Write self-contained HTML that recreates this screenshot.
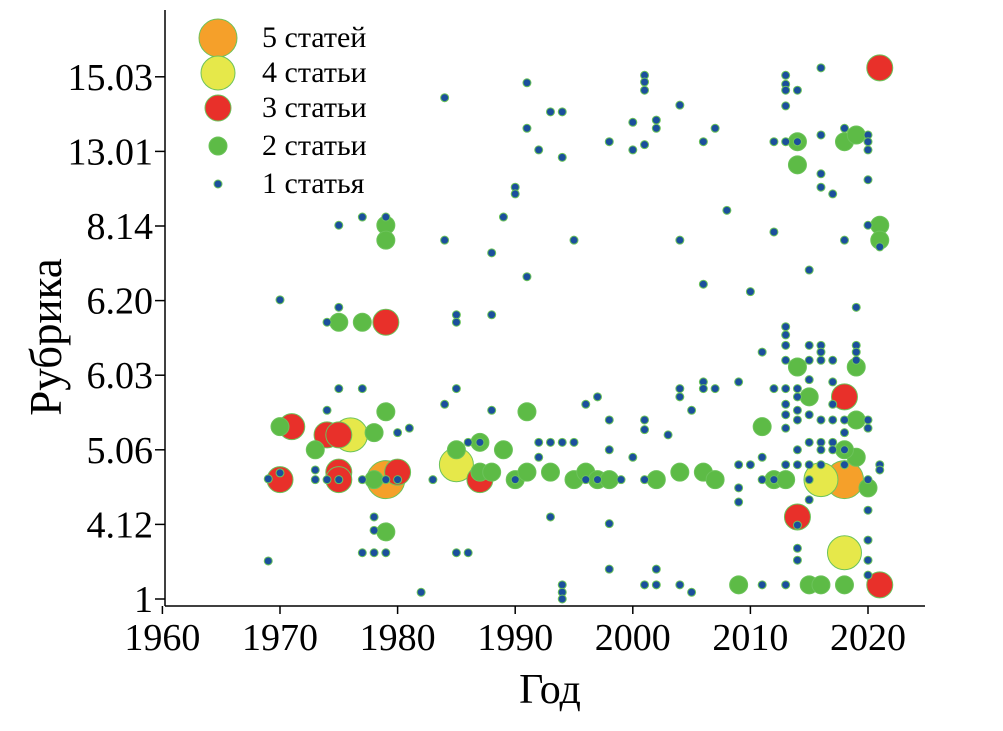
<!DOCTYPE html>
<html><head><meta charset="utf-8"><style>
html,body{margin:0;padding:0;background:#fff;}
svg{display:block;font-family:"Liberation Serif",serif;}
</style></head><body>
<svg id="chart" width="1003" height="731" viewBox="0 0 1003 731">
<g id="marks"></g>
<g id="axes"></g>
<g id="legend"></g>
</svg>
<script>
const xTicks = [1960,1970,1980,1990,2000,2010,2020];
const yTickLabels = ["1","4.12","5.06","6.03","6.20","8.14","13.01","15.03"];
const legendLabels = ["5 статей","4 статьи","3 статьи","2 статьи","1 статья"];
const pts1 = [[1969,0.51],[1970,4.01],[1970,1.69],[1969,1.61],[1975,5.01],[1975,3.91],[1975,2.82],[1974,3.71],[1974,2.53],[1973,1.60],[1973,1.73],[1974,1.60],[1975,1.60],[1977,5.12],[1977,2.82],[1977,1.60],[1978,0.92],[1978,0.62],[1977,0.62],[1979,0.62],[1978,1.10],[1979,1.60],[1980,2.23],[1981,2.29],[1979,5.12],[1980,1.60],[1982,0.09],[1983,1.60],[1984,6.72],[1984,2.61],[1984,4.81],[1985,3.81],[1985,3.71],[1985,2.82],[1985,0.62],[1986,0.62],[1986,2.10],[1987,2.10],[1988,4.64],[1988,3.81],[1988,2.53],[1989,5.12],[1990,5.52],[1990,5.43],[1990,1.60],[1991,4.32],[1991,6.92],[1991,6.31],[1992,6.02],[1992,2.10],[1992,1.90],[1993,6.53],[1994,6.53],[1994,5.92],[1993,1.10],[1993,2.10],[1994,2.10],[1995,2.10],[1994,0.19],[1994,0.09],[1994,0],[1995,4.81],[1996,2.61],[1996,1.60],[1997,2.71],[1997,1.60],[1998,2.40],[1998,2.00],[1998,1.01],[1998,0.40],[1998,6.13],[1999,1.60],[2000,6.39],[2000,6.02],[2000,1.90],[2001,7.02],[2001,6.93],[2001,6.82],[2001,6.09],[2001,2.40],[2001,2.27],[2001,1.60],[2001,0.19],[2002,6.42],[2002,6.31],[2002,0.40],[2002,0.19],[2003,2.20],[2004,6.62],[2004,4.81],[2004,2.82],[2004,2.71],[2004,0.19],[2005,2.53],[2005,0.09],[2006,6.13],[2006,4.22],[2006,2.91],[2006,2.82],[2007,6.31],[2007,2.82],[2008,5.21],[2009,2.91],[2009,1.80],[2009,1.49],[2009,1.30],[2010,4.12],[2010,1.80],[2011,3.31],[2011,1.90],[2011,1.60],[2011,0.19],[2012,4.92],[2012,2.82],[2012,1.60],[2013,7.02],[2013,6.90],[2013,6.82],[2013,6.61],[2013,1.80],[2013,0.19],[2014,6.82],[2014,6.13],[2014,0.99],[2014,0.68],[2014,0.52],[2013,3.65],[2013,3.54],[2013,3.40],[2013,3.20],[2013,2.82],[2013,2.61],[2013,2.47],[2013,2.29],[2012,6.13],[2013,6.13],[2014,2.82],[2014,2.71],[2014,2.53],[2014,2.40],[2014,2.00],[2014,1.80],[2015,4.41],[2015,2.47],[2015,2.10],[2015,1.80],[2015,1.60],[2015,1.33],[2015,2.94],[2015,3.40],[2015,3.20],[2016,7.12],[2016,6.22],[2016,5.70],[2016,5.52],[2016,3.40],[2016,3.31],[2016,3.20],[2016,2.40],[2016,2.10],[2016,2.00],[2016,1.80],[2017,5.43],[2017,2.10],[2017,2.00],[2018,4.81],[2018,2.40],[2018,1.80],[2019,3.91],[2019,3.40],[2019,3.31],[2019,3.20],[2018,6.31],[2020,6.22],[2020,6.13],[2020,6.02],[2020,5.62],[2020,5.01],[2020,2.40],[2020,2.29],[2020,1.60],[2020,1.19],[2020,0.79],[2020,0.52],[2020,0.32],[2021,4.72],[2021,1.80],[2021,1.73],[2018,2.23],[2018,2.00],[2017,2.61],[2017,3.20],[2017,2.91],[2017,2.40]];
const pts2 = [[1970,2.31],[1973,2.00],[1975,3.71],[1977,3.71],[1978,2.23],[1979,5.01],[1979,4.81],[1979,2.51],[1978,1.60],[1979,0.90],[1985,2.00],[1987,2.10],[1989,2.00],[1987,1.70],[1988,1.70],[1990,1.60],[1991,2.51],[1991,1.70],[1993,1.70],[1995,1.60],[1996,1.70],[1997,1.60],[1998,1.60],[2002,1.60],[2004,1.70],[2006,1.70],[2007,1.60],[2009,0.19],[2011,2.31],[2012,1.60],[2013,1.60],[2014,6.13],[2014,5.82],[2014,3.11],[2015,2.71],[2015,0.19],[2016,0.19],[2018,0.19],[2018,6.13],[2019,6.22],[2019,3.11],[2019,2.40],[2019,1.90],[2018,2.00],[2020,1.49],[2021,5.01],[2021,4.81]];
const pts3 = [[1970,1.60],[1971,2.31],[1974,2.20],[1975,2.20],[1975,1.70],[1975,1.60],[1979,3.71],[1980,1.70],[1987,1.60],[2014,1.10],[2018,2.71],[2021,7.12],[2021,0.19]];
const pts4 = [[1976,2.20],[1985,1.80],[2016,1.60],[2018,0.62]];
const pts5 = [[1979,1.60],[2018,1.60]];

const NS="http://www.w3.org/2000/svg";
const xS = y => 162.4 + (y-1960)*11.76;
const yS = v => 599 - v*74.6;
function mk(tag, attrs, parent){const e=document.createElementNS(NS,tag);for(const k in attrs)e.setAttribute(k,attrs[k]);parent.appendChild(e);return e;}
const marks=document.getElementById('marks'), axes=document.getElementById('axes'), legend=document.getElementById('legend');
const styles=[{r:19,f:"#f5a02a"},{r:17,f:"#e6e84a"},{r:13,f:"#e8302a"},{r:9,f:"#5dbb46"},{r:4,f:"#1b4f9c"}];
const series=[pts5,pts4,pts3,pts2,pts1];
series.forEach((pts,si)=>{
  pts.forEach(p=>{
    const c=mk('circle',{cx:xS(p[0]),cy:yS(p[1]),r:styles[si].r,fill:styles[si].f,stroke:"#6cc35a","stroke-width":1},marks);
    
    
  });
});
let l=mk('line',{x1:165,y1:10,x2:165,y2:606,stroke:"#000","stroke-width":1.5},axes);


l=mk('line',{x1:165,y1:606,x2:925,y2:606,stroke:"#000","stroke-width":1.5},axes);


xTicks.forEach(t=>{
  mk('line',{x1:xS(t),y1:606,x2:xS(t),y2:614,stroke:"#000","stroke-width":1.5},axes);
  const tx=mk('text',{x:xS(t),y:650,"text-anchor":"middle","font-size":38},axes);
  tx.textContent=t;
  
  
});
yTickLabels.forEach((t,i)=>{
  mk('line',{x1:155,y1:yS(i),x2:165,y2:yS(i),stroke:"#000","stroke-width":1.5},axes);
  const tx=mk('text',{x:153,y:yS(i)+13,"text-anchor":"end","font-size":38},axes);
  tx.textContent=t;
  
  
});
let t=mk('text',{x:550,y:703,"text-anchor":"middle","font-size":42},axes);
t.textContent="Год";


t=mk('text',{x:61,y:337,"text-anchor":"middle","font-size":45,transform:"rotate(-90 61 337)"},axes);
t.textContent="Рубрика";


const ly=[38,73,108,146,184];
legendLabels.forEach((lab,i)=>{
  const c=mk('circle',{cx:218,cy:ly[i],r:styles[i].r,fill:styles[i].f,stroke:"#6cc35a","stroke-width":1},legend);
  
  
  const tx=mk('text',{x:262,y:ly[i]+9,"font-size":30},legend);
  tx.textContent=lab;
  
  
});
</script>
</body></html>
